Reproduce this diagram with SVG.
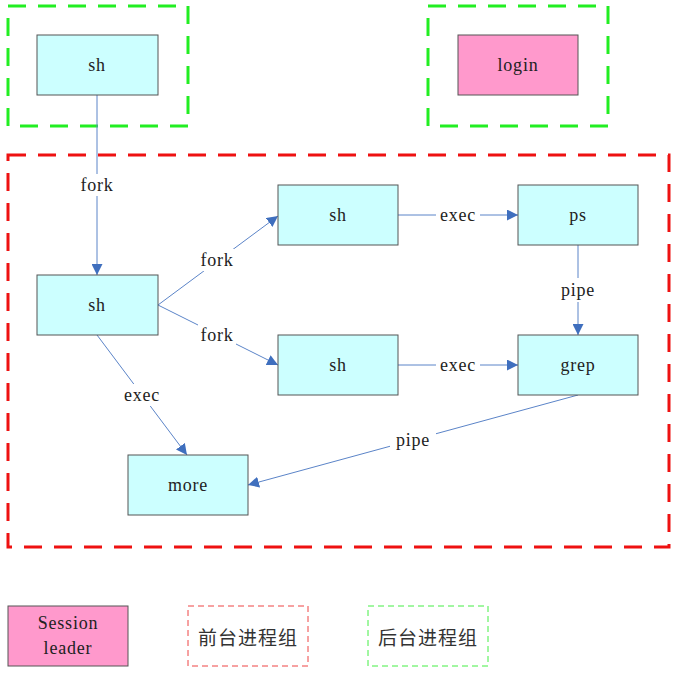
<svg xmlns="http://www.w3.org/2000/svg" width="676" height="673" viewBox="0 0 676 673">
<defs>
<marker id="arr" viewBox="0 0 10 10" refX="10" refY="5" markerWidth="11" markerHeight="11" markerUnits="userSpaceOnUse" orient="auto">
<path d="M0,0 L10,5 L0,10 Z" fill="#3F6FBE"/>
</marker>
<style>
.node{fill:#CCFFFF;stroke:#555;stroke-width:1}
.leader{fill:#FF99CC;stroke:#555;stroke-width:1}
.t{font-family:"Liberation Serif","DejaVu Serif","Noto Sans CJK SC",serif;font-size:18px;letter-spacing:0.8px;fill:#222;text-anchor:middle;dominant-baseline:central}
.cjk{font-family:"Noto Sans CJK SC",sans-serif;font-size:19px;letter-spacing:1px;fill:#333;text-anchor:middle;dominant-baseline:central}
.green{fill:none;stroke:#22EE22;stroke-width:3;stroke-dasharray:18 12}
.red{fill:none;stroke:#EE1111;stroke-width:3;stroke-dasharray:18 12}
.lgreen{fill:none;stroke:#44EE44;stroke-width:1;stroke-dasharray:6 4}
.lred{fill:none;stroke:#EE4444;stroke-width:1;stroke-dasharray:6 4}
.c{stroke:#5B84C8;stroke-width:1;fill:none;marker-end:url(#arr)}
.lbl{fill:#fff}
</style>
</defs>
<g id="groups">
<rect class="green" x="8" y="6" width="180" height="120"/>
<rect class="green" x="428" y="6" width="180" height="120"/>
<rect class="red" x="8" y="155" width="661" height="392"/>
</g>
<g id="connectors">
<line class="c" x1="97" y1="95" x2="97" y2="275"/>
<line class="c" x1="158" y1="305" x2="278" y2="216"/>
<line class="c" x1="158" y1="305" x2="278" y2="365"/>
<line class="c" x1="398" y1="215" x2="518" y2="215"/>
<line class="c" x1="398" y1="365" x2="518" y2="365"/>
<line class="c" x1="578" y1="245" x2="578" y2="335"/>
<line class="c" x1="97" y1="335" x2="187" y2="455"/>
<line class="c" x1="578" y1="395" x2="248" y2="485"/>
<rect class="lbl" x="78" y="174" width="38" height="22"/>
<text class="t" x="97" y="185">fork</text>
<rect class="lbl" x="198" y="249" width="38" height="22"/>
<text class="t" x="217" y="260">fork</text>
<rect class="lbl" x="198" y="324" width="38" height="22"/>
<text class="t" x="217" y="335">fork</text>
<rect class="lbl" x="436" y="207" width="44" height="16"/>
<text class="t" x="458" y="215">exec</text>
<rect class="lbl" x="436" y="357" width="44" height="16"/>
<text class="t" x="458" y="365">exec</text>
<rect class="lbl" x="556" y="278" width="44" height="24"/>
<text class="t" x="578" y="290">pipe</text>
<rect class="lbl" x="119" y="384" width="46" height="22"/>
<text class="t" x="142" y="395">exec</text>
<rect class="lbl" x="390" y="429" width="46" height="22"/>
<text class="t" x="413" y="440">pipe</text>
</g>
<g id="sh1"><rect class="node" x="37" y="35" width="121" height="60"/><text class="t" x="97" y="65">sh</text></g>
<g id="login"><rect class="leader" x="458" y="35" width="120" height="60"/><text class="t" x="518" y="65">login</text></g>
<g id="sh2"><rect class="node" x="37" y="275" width="121" height="60"/><text class="t" x="97" y="305">sh</text></g>
<g id="sh3"><rect class="node" x="278" y="185" width="120" height="60"/><text class="t" x="338" y="215">sh</text></g>
<g id="sh4"><rect class="node" x="278" y="335" width="120" height="60"/><text class="t" x="338" y="365">sh</text></g>
<g id="ps"><rect class="node" x="518" y="185" width="120" height="60"/><text class="t" x="578" y="215">ps</text></g>
<g id="grep"><rect class="node" x="518" y="335" width="120" height="60"/><text class="t" x="578" y="365">grep</text></g>
<g id="more"><rect class="node" x="128" y="455" width="120" height="60"/><text class="t" x="188" y="485">more</text></g>
<g id="legend">
<g id="leg-leader"><rect class="leader" x="8" y="606" width="120" height="60"/><text class="t" x="68" y="623">Session</text><text class="t" x="68" y="648">leader</text></g>
<g id="leg-fg"><rect class="lred" x="188" y="606" width="120" height="60"/><text class="cjk" x="248" y="636">前台进程组</text></g>
<g id="leg-bg"><rect class="lgreen" x="368" y="606" width="120" height="60"/><text class="cjk" x="428" y="636">后台进程组</text></g>
</g>
</svg>
